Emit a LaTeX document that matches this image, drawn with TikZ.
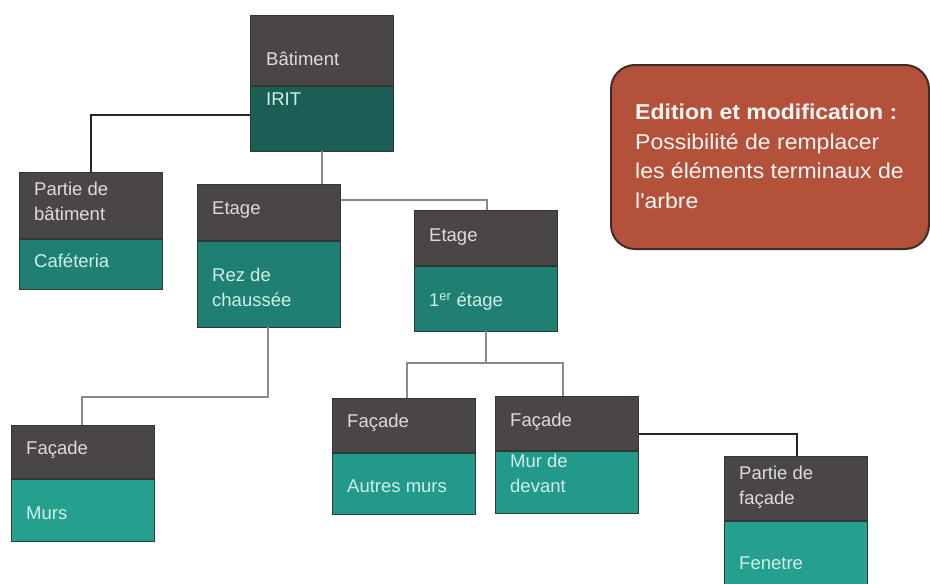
\documentclass[tikz,border=0pt]{standalone}
\usepackage{fontspec}
\setmainfont{Liberation Sans}
\newfontfamily\callfont[FakeStretch=1.07]{Liberation Sans}
\definecolor{topgray}{HTML}{4A4646}
\definecolor{tealA}{HTML}{1B5E55}
\definecolor{tealB}{HTML}{1F7F72}
\definecolor{tealC}{HTML}{22998A}
\definecolor{tealD}{HTML}{25A08E}
\definecolor{toptext}{HTML}{DCDCDC}
\definecolor{bottext}{HTML}{CDEFE8}
\definecolor{rust}{HTML}{B4513B}
\definecolor{rustedge}{HTML}{3E2C26}
\definecolor{boxedge}{HTML}{2E3835}
\definecolor{linkgray}{HTML}{8A8A8A}
\tikzset{
  x=1pt,y=-1pt,
  part/.style={draw=boxedge, line width=0.6pt, minimum width=143pt, inner sep=0pt, anchor=north west},
  toppart/.style={part, fill=topgray},
  botpart/.style={part},
  ttext/.style={anchor=west, inner sep=0pt, text=toptext, font=\fontsize{18.5}{25}\selectfont, align=left},
  btext/.style={anchor=west, inner sep=0pt, text=bottext, font=\fontsize{18.5}{25}\selectfont, align=left},
  darklink/.style={draw=black!85, line width=1.4pt},
  graylink/.style={draw=linkgray, line width=1.4pt},
}
\begin{document}
\begin{tikzpicture}
\useasboundingbox (0,0) rectangle (930,584);
% Batiment
\node[toppart, minimum height=70pt] (batT) at (250,15) {};
\node[botpart, fill=tealA, minimum height=65pt] (batB) at (batT.south west) {};
\node[ttext] (batTt) at (266,59) {Bâtiment};
\node[btext] (batBt) at (266,99) {IRIT};
% Partie de batiment
\node[toppart, minimum height=66pt] (pbT) at (19,172) {};
\node[botpart, fill=tealB, minimum height=50pt] (pbB) at (pbT.south west) {};
\node[ttext] (pbTt) at (34,201) {Partie de\\bâtiment};
\node[btext] (pbBt) at (34,261) {Caféteria};
% Etage 1
\node[toppart, minimum height=56pt] (e1T) at (197,184) {};
\node[botpart, fill=tealB, minimum height=86pt] (e1B) at (e1T.south west) {};
\node[ttext] (e1Tt) at (212,210) {Etage};
\node[btext] (e1Bt) at (212,287) {Rez de\\chaussée};
% Etage 2
\node[toppart, minimum height=55pt] (e2T) at (414,210) {};
\node[botpart, fill=tealB, minimum height=65pt] (e2B) at (e2T.south west) {};
\node[ttext] (e2Tt) at (429,237) {Etage};
\node[btext] (e2Bt) at (429,302) {1\textsuperscript{er} étage};
% Facade murs
\node[toppart, minimum height=53pt] (fmT) at (11,425) {};
\node[botpart, fill=tealD, minimum height=62pt] (fmB) at (fmT.south west) {};
\node[ttext] (fmTt) at (26,450) {Façade};
\node[btext] (fmBt) at (26,513) {Murs};
% Facade autres murs
\node[toppart, minimum height=54pt] (faT) at (332,398) {};
\node[botpart, fill=tealC, minimum height=61pt] (faB) at (faT.south west) {};
\node[ttext] (faTt) at (347,423) {Façade};
\node[btext] (faBt) at (347,486) {Autres murs};
% Facade mur de devant
\node[toppart, minimum height=54pt] (fdT) at (495,396) {};
\node[botpart, fill=tealC, minimum height=62pt] (fdB) at (fdT.south west) {};
\node[ttext] (fdTt) at (510,422) {Façade};
\node[btext] (fdBt) at (510,473) {Mur de\\devant};
% Partie de facade
\node[toppart, minimum height=64pt] (pfT) at (724,456) {};
\node[botpart, fill=tealD, minimum height=70pt] (pfB) at (pfT.south west) {};
\node[ttext] (pfTt) at (739,487) {Partie de\\façade};
\node[btext] (pfBt) at (739,563) {Fenetre};
% connectors
\draw[darklink] (batB.west |- 0,115) -| (pbT.north -| 91,0);
\draw[graylink] (batB.south -| 322,0) -- (e1T.north -| 322,0);
\draw[graylink] (e1T.east |- 0,200) -| (e2T.north -| 487,0);
\coordinate (rzA) at (268,397);
\draw[graylink] (e1B.south -| 268,0) -- (rzA) -| (fmT.north -| 82,0);
\coordinate (spl) at (486,363);
\draw[graylink] (e2B.south -| 486,0) -- (spl);
\draw[graylink] (faT.north -| 407,0) |- (spl) -| (fdT.north -| 563,0);
\draw[darklink] (fdT.east |- 0,434) -| (pfT.north -| 797,0);
% callout
\node[draw=rustedge, line width=2pt, fill=rust, rounded corners=24pt, minimum width=318pt, minimum height=184pt, anchor=north west, inner sep=0pt] (call) at (610,64) {};
\node[anchor=north west, inner sep=0pt, text=white!95!rust, align=left, font=\callfont\fontsize{21.5}{29.5}\selectfont] (callt) at (635,104) {\textbf{Edition et modification :}\\Possibilité de remplacer\\les éléments terminaux de\\l'arbre};
\end{tikzpicture}
\end{document}
